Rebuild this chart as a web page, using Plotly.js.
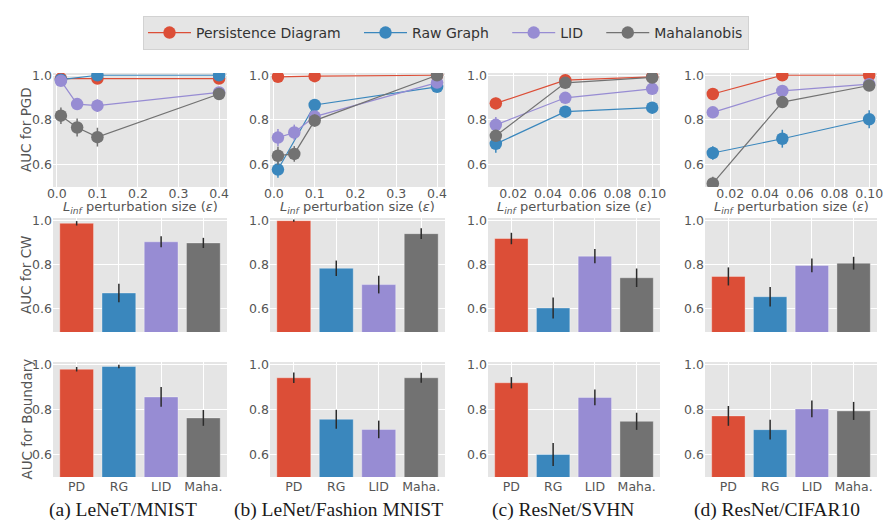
<!DOCTYPE html>
<html>
<head>
<meta charset="utf-8">
<script src="https://cdn.plot.ly/plotly-3.0.1.min.js"></script>
<style>html,body{margin:0;padding:0;background:#fff;}#chart{width:890px;height:525px;}</style>
</head>
<body>
<div id="chart"></div>
<script>
// ---------------- data ----------------
const methods = ['Persistence Diagram', 'Raw Graph', 'LID', 'Mahalanobis'];
const barCats = ['PD', 'RG', 'LID', 'Maha.'];
const captions = ['(a) LeNeT/MNIST', '(b) LeNet/Fashion MNIST', '(c) ResNet/SVHN', '(d) ResNet/CIFAR10'];
const rowTitles = ['AUC for PGD', 'AUC for CW', 'AUC for Boundary'];

// PGD (line plots): x values per series
const epsA_3 = [0.01, 0.1, 0.4];
const epsA_4 = [0.01, 0.05, 0.1, 0.4];
const epsR = [0.01, 0.05, 0.1];

// (a) LeNeT/MNIST
const pgdA_PD = [0.985, 0.985, 0.985],        pgdA_PD_err = [0.01, 0.008, 0.008];
const pgdA_RG = [0.98, 1.0, 1.0],             pgdA_RG_err = [0.005, 0.003, 0.002];
const pgdA_LID = [0.975, 0.871, 0.864, 0.923], pgdA_LID_err = [0.01, 0.024, 0.028, 0.01];
const pgdA_MA = [0.819, 0.766, 0.723, 0.916],  pgdA_MA_err = [0.037, 0.04, 0.042, 0.02];
// (b) LeNet/Fashion MNIST
const pgdB_PD = [0.993, 0.996, 1.0],          pgdB_PD_err = [0.006, 0.005, 0.003];
const pgdB_RG = [0.578, 0.867, 0.948],        pgdB_RG_err = [0.037, 0.022, 0.015];
const pgdB_LID = [0.721, 0.744, 0.815, 0.967], pgdB_LID_err = [0.039, 0.035, 0.02, 0.01];
const pgdB_MA = [0.64, 0.648, 0.797, 1.0],     pgdB_MA_err = [0.04, 0.035, 0.027, 0.005];
// (c) ResNet/SVHN
const pgdC_PD = [0.874, 0.978, 0.993],  pgdC_PD_err = [0.025, 0.01, 0.01];
const pgdC_RG = [0.693, 0.837, 0.855],  pgdC_RG_err = [0.04, 0.025, 0.025];
const pgdC_LID = [0.778, 0.899, 0.939], pgdC_LID_err = [0.035, 0.02, 0.01];
const pgdC_MA = [0.729, 0.966, 0.99],   pgdC_MA_err = [0.02, 0.01, 0.006];
// (d) ResNet/CIFAR10
const pgdD_PD = [0.916, 1.0, 1.0],      pgdD_PD_err = [0.02, 0.005, 0.005];
const pgdD_RG = [0.652, 0.716, 0.803],  pgdD_RG_err = [0.03, 0.04, 0.04];
const pgdD_LID = [0.834, 0.93, 0.96],   pgdD_LID_err = [0.02, 0.012, 0.01];
const pgdD_MA = [0.516, 0.88, 0.954],   pgdD_MA_err = [0.03, 0.015, 0.01];

// CW (bars: PD, RG, LID, Maha.)
const cwA = [0.988, 0.672, 0.904, 0.899], cwA_err = [0.01, 0.042, 0.025, 0.023];
const cwB = [1.0, 0.784, 0.71, 0.941],    cwB_err = [0.005, 0.035, 0.04, 0.024];
const cwC = [0.919, 0.604, 0.839, 0.741], cwC_err = [0.026, 0.048, 0.032, 0.042];
const cwD = [0.747, 0.655, 0.797, 0.807], cwD_err = [0.041, 0.044, 0.031, 0.029];

// Boundary (bars)
const bdA = [0.978, 0.99, 0.855, 0.762], bdA_err = [0.01, 0.008, 0.044, 0.035];
const bdB = [0.94, 0.756, 0.711, 0.94],  bdB_err = [0.023, 0.042, 0.039, 0.022];
const bdC = [0.918, 0.6, 0.853, 0.747],  bdC_err = [0.025, 0.051, 0.035, 0.038];
const bdD = [0.771, 0.71, 0.802, 0.793], bdD_err = [0.044, 0.044, 0.037, 0.04];

const xTicksA = [0, 0.1, 0.2, 0.3, 0.4];
const xTicksR = [0.02, 0.04, 0.06, 0.08, 0.10];
const yTicks = [0.6, 0.8, 1.0];

// ---------------- styling / layout ----------------
const colors = ['#DC4E37', '#3A87BD', '#978CD3', '#727272'];
const W = 890, H = 525;
const colPx = [[53, 227], [270, 445], [488, 660], [705, 877]];
const rowPx = [[73, 187], [218, 332], [362, 477]];
const FONT = 'DejaVu Sans, sans-serif';
const TICKC = '#555555';
const PAD = '\u00a0\u00a0\u00a0'; // extra spacing between legend entries

const pgdSeries = [
  [[epsA_3, pgdA_PD, pgdA_PD_err], [epsA_3, pgdA_RG, pgdA_RG_err], [epsA_4, pgdA_LID, pgdA_LID_err], [epsA_4, pgdA_MA, pgdA_MA_err]],
  [[epsA_3, pgdB_PD, pgdB_PD_err], [epsA_3, pgdB_RG, pgdB_RG_err], [epsA_4, pgdB_LID, pgdB_LID_err], [epsA_4, pgdB_MA, pgdB_MA_err]],
  [[epsR, pgdC_PD, pgdC_PD_err], [epsR, pgdC_RG, pgdC_RG_err], [epsR, pgdC_LID, pgdC_LID_err], [epsR, pgdC_MA, pgdC_MA_err]],
  [[epsR, pgdD_PD, pgdD_PD_err], [epsR, pgdD_RG, pgdD_RG_err], [epsR, pgdD_LID, pgdD_LID_err], [epsR, pgdD_MA, pgdD_MA_err]]
];
const cwSeries = [[cwA, cwA_err], [cwB, cwB_err], [cwC, cwC_err], [cwD, cwD_err]];
const bdSeries = [[bdA, bdA_err], [bdB, bdB_err], [bdC, bdC_err], [bdD, bdD_err]];

const traces = [];
const layout = {
  width: W, height: H,
  margin: {l: 0, r: 0, t: 0, b: 0},
  paper_bgcolor: '#ffffff',
  plot_bgcolor: '#E5E5E5',
  font: {family: FONT, color: TICKC, size: 12.5},
  showlegend: true,
  legend: {
    orientation: 'h', x: 446 / W, xanchor: 'center', y: 1 - 16 / H, yanchor: 'top',
    bgcolor: '#E5E5E5', bordercolor: '#D2D2D2', borderwidth: 1,
    font: {family: FONT, size: 14, color: '#333333'},
    itemwidth: 43, tracegroupgap: 0
  },
  annotations: [],
  bargap: 0.2
};

function axId(r, c) { return r * 4 + c + 1; }

for (let c = 0; c < 4; c++) {
  // ---- top row: line plots ----
  const id = axId(0, c);
  pgdSeries[c].forEach((s, k) => {
    traces.push({
      type: 'scatter', mode: 'lines+markers',
      x: s[0], y: s[1],
      error_y: {type: 'data', array: s[2], visible: true, color: colors[k], thickness: 1.5, width: 0},
      line: {color: colors[k], width: 1.2},
      marker: {color: colors[k], size: 12.5},
      name: k < 3 ? methods[k] + PAD : methods[k], legendgroup: methods[k], showlegend: c === 0,
      xaxis: 'x' + id, yaxis: 'y' + id
    });
  });
  // ---- bar rows ----
  [[1, cwSeries[c]], [2, bdSeries[c]]].forEach(([r, s]) => {
    const bid = axId(r, c);
    traces.push({
      type: 'bar', x: barCats, y: s[0],
      marker: {color: colors, line: {color: 'rgba(255,255,255,0.35)', width: 1}},
      error_y: {type: 'data', array: s[1], visible: true, color: '#2b2b2b', thickness: 1.5, width: 0},
      showlegend: false, xaxis: 'x' + bid, yaxis: 'y' + bid
    });
  });
}

for (let r = 0; r < 3; r++) {
  for (let c = 0; c < 4; c++) {
    const id = axId(r, c);
    const xs = id === 1 ? '' : id;
    const xd = [colPx[c][0] / W, colPx[c][1] / W];
    const yd = [1 - rowPx[r][1] / H, 1 - rowPx[r][0] / H];
    const xa = {
      domain: xd, anchor: 'y' + id, showline: false, zeroline: false,
      showgrid: true, gridcolor: '#FFFFFF', gridwidth: 1, ticks: '',
      tickfont: {family: FONT, size: 12.5, color: TICKC}
    };
    const ya = {
      domain: yd, anchor: 'x' + id, showline: false, zeroline: false,
      showgrid: true, gridcolor: '#FFFFFF', gridwidth: 1, ticks: '',
      tickvals: yTicks, tickformat: '.1f',
      tickfont: {family: FONT, size: 12.5, color: TICKC}
    };
    if (r === 0) {
      if (c < 2) { xa.range = [-0.0095, 0.4195]; xa.tickvals = xTicksA; xa.tickformat = '.1f'; }
      else { xa.range = [0.0055, 0.1045]; xa.tickvals = xTicksR; xa.tickformat = '.2f'; }
      xa.ticklabelstandoff = -3;
      ya.range = [0.5, 1.01];
    } else {
      xa.type = 'category'; xa.range = [-0.56, 3.56];
      xa.showticklabels = (r === 2);
      ya.range = r === 1 ? [0.495, 1.012] : [0.5, 1.01];
    }
    layout['xaxis' + xs] = xa;
    layout['yaxis' + xs] = ya;
  }
}

// x-axis titles for top row, captions
for (let c = 0; c < 4; c++) {
  layout.annotations.push({
    xref: 'paper', yref: 'paper', x: (colPx[c][0] + colPx[c][1]) / 2 / W, y: 1 - 207 / H,
    xanchor: 'center', yanchor: 'middle', showarrow: false,
    text: '<i>L</i><sub><i>inf</i></sub> perturbation size (<i>ε</i>)',
    font: {family: FONT, size: 13, color: TICKC}
  });
  layout.annotations.push({
    xref: 'paper', yref: 'paper', x: [123, 338, 563, 777][c] / W, y: 1 - 510 / H,
    xanchor: 'center', yanchor: 'middle', showarrow: false,
    text: captions[c],
    font: {family: 'Liberation Serif, Times New Roman, serif', size: 19.5, color: '#1a1a1a'}
  });
}
// y-axis titles
for (let r = 0; r < 3; r++) {
  layout.annotations.push({
    xref: 'paper', yref: 'paper', x: 26 / W, y: 1 - (rowPx[r][0] + rowPx[r][1]) / 2 / H,
    xanchor: 'center', yanchor: 'middle', showarrow: false, textangle: -90,
    text: rowTitles[r],
    font: {family: FONT, size: 13.5, color: TICKC}
  });
}

Plotly.newPlot('chart', traces, layout, {displayModeBar: false, staticPlot: true});
</script>
</body>
</html>
